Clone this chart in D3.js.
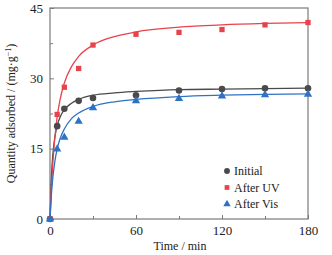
<!DOCTYPE html>
<html>
<head>
<meta charset="utf-8">
<script src="https://cdn.jsdelivr.net/npm/d3@7"></script>
<style>
  body { margin: 0; background: #fff; }
</style>
</head>
<body>
<div id="chart"></div>
<script>
    // Measured points
    const times = [0, 5, 10, 20, 30, 60, 90, 120, 150, 180];
    const initial = [0, 19.8, 23.5, 25.2, 25.8, 26.4, 27.4, 27.7, 27.9, 27.9];
    const afterUV = [0, 22.3, 28.1, 32.1, 37.1, 39.4, 39.8, 40.4, 41.4, 41.9];
    const afterVis = [0, 14.9, 17.4, 20.8, 23.7, 25.2, 25.7, 26.2, 26.5, 26.6];

    // Fitted curves
    const fitTimes = [0, 1, 2, 3, 4, 5, 7, 10, 15, 20, 30, 45, 60, 90, 120, 150, 180];
    const fitInitial = [0, 9.1, 13.8, 16.6, 18.5, 19.9, 21.7, 23.3, 24.7, 25.5, 26.4, 26.9, 27.2, 27.6, 27.7, 27.8, 27.9];
    const fitUV = [0, 6.8, 12.0, 16.0, 19.2, 21.8, 25.4, 29.0, 32.5, 34.7, 37.1, 38.9, 39.9, 40.9, 41.4, 41.7, 41.9];
    const fitVis = [0, 5.3, 8.9, 11.4, 13.4, 14.9, 17.1, 19.2, 21.4, 22.6, 24.0, 25.0, 25.5, 26.1, 26.4, 26.6, 26.7];

    const xTicks = [0, 60, 120, 180];
    const yTicks = [0, 15, 30, 45];
    const seriesNames = ["Initial", "After UV", "After Vis"];

    const W = 332, H = 255;
    const m = { left: 50, right: 24, top: 8, bottom: 36 };
    const serif = "'Liberation Serif', 'Times New Roman', 'DejaVu Serif', serif";

    const svg = d3.select("#chart").append("svg")
      .attr("width", W)
      .attr("height", H);

    const x = d3.scaleLinear().domain([0, 180]).range([m.left, W - m.right]);
    const y = d3.scaleLinear().domain([0, 45]).range([H - m.bottom, m.top]);

    const colors = ["#4a4a4a", "#e8424c", "#2f72c4"];
    const frame = "#7a7a7a";

    // axes with inward ticks
    svg.append("g")
      .attr("transform", `translate(0,${y(0)})`)
      .call(d3.axisBottom(x).tickValues(xTicks).tickSize(-4).tickPadding(7).tickFormat(d3.format("d")));
    svg.append("g")
      .attr("transform", `translate(0,${y(0)})`)
      .call(d3.axisBottom(x).tickValues([30, 90, 150]).tickSize(-3).tickFormat(""));
    svg.append("g")
      .attr("transform", `translate(${x(0)},0)`)
      .call(d3.axisLeft(y).tickValues(yTicks).tickSize(-4).tickPadding(7).tickFormat(d3.format("d")));
    svg.append("g")
      .attr("transform", `translate(${x(0)},0)`)
      .call(d3.axisLeft(y).tickValues([7.5, 22.5, 37.5]).tickSize(-3).tickFormat(""));

    svg.selectAll(".domain").remove();
    svg.selectAll(".tick line").attr("stroke", frame);
    svg.selectAll(".tick text")
      .attr("font-family", serif)
      .attr("font-size", 13)
      .attr("fill", "#222");

    // frame
    svg.append("rect")
      .attr("x", x(0)).attr("y", y(45))
      .attr("width", x(180) - x(0)).attr("height", y(0) - y(45))
      .attr("fill", "none")
      .attr("stroke", frame)
      .attr("stroke-width", 1.2);

    // fitted lines
    const line = d3.line()
      .x((d, i) => x(fitTimes[i]))
      .y(d => y(d))
      .curve(d3.curveMonotoneX);

    [fitInitial, fitUV, fitVis].forEach((s, k) => {
      svg.append("path")
        .datum(s)
        .attr("d", line)
        .attr("fill", "none")
        .attr("stroke", colors[k])
        .attr("stroke-width", 1.3);
    });

    // markers
    const sym = [d3.symbolCircle, d3.symbolSquare, d3.symbolTriangle];
    const symSize = [34, 28, 30];
    [initial, afterUV, afterVis].forEach((s, k) => {
      svg.append("g")
        .selectAll("path")
        .data(s)
        .join("path")
        .attr("transform", (d, i) => `translate(${x(times[i])},${y(d)})`)
        .attr("d", d3.symbol().type(sym[k]).size(symSize[k]))
        .attr("fill", colors[k]);
    });

    // legend
    const legend = svg.append("g").attr("transform", "translate(227,171)");
    seriesNames.forEach((name, k) => {
      legend.append("path")
        .attr("transform", `translate(0,${k * 16.5})`)
        .attr("d", d3.symbol().type(sym[k]).size(symSize[k] * 0.8))
        .attr("fill", colors[k]);
      legend.append("text")
        .attr("x", 7)
        .attr("y", k * 16.5 + 4)
        .attr("font-family", serif)
        .attr("font-size", 12)
        .attr("fill", "#222")
        .text(name);
    });

    // axis titles
    svg.append("text")
      .attr("x", (x(0) + x(180)) / 2 + 1)
      .attr("y", 250)
      .attr("text-anchor", "middle")
      .attr("font-family", serif)
      .attr("font-size", 12)
      .attr("fill", "#222")
      .text("Time / min");

    const yt = svg.append("text")
      .attr("transform", `translate(15,${(y(0) + y(45)) / 2}) rotate(-90)`)
      .attr("text-anchor", "middle")
      .attr("font-family", serif)
      .attr("font-size", 12)
      .attr("fill", "#222");
    yt.append("tspan").text("Quantity adsorbed / (mg\u00b7g");
    yt.append("tspan").attr("dy", -4).attr("font-size", 8).text("\u22121");
    yt.append("tspan").attr("dy", 4).text(")");
</script>
</body>
</html>
